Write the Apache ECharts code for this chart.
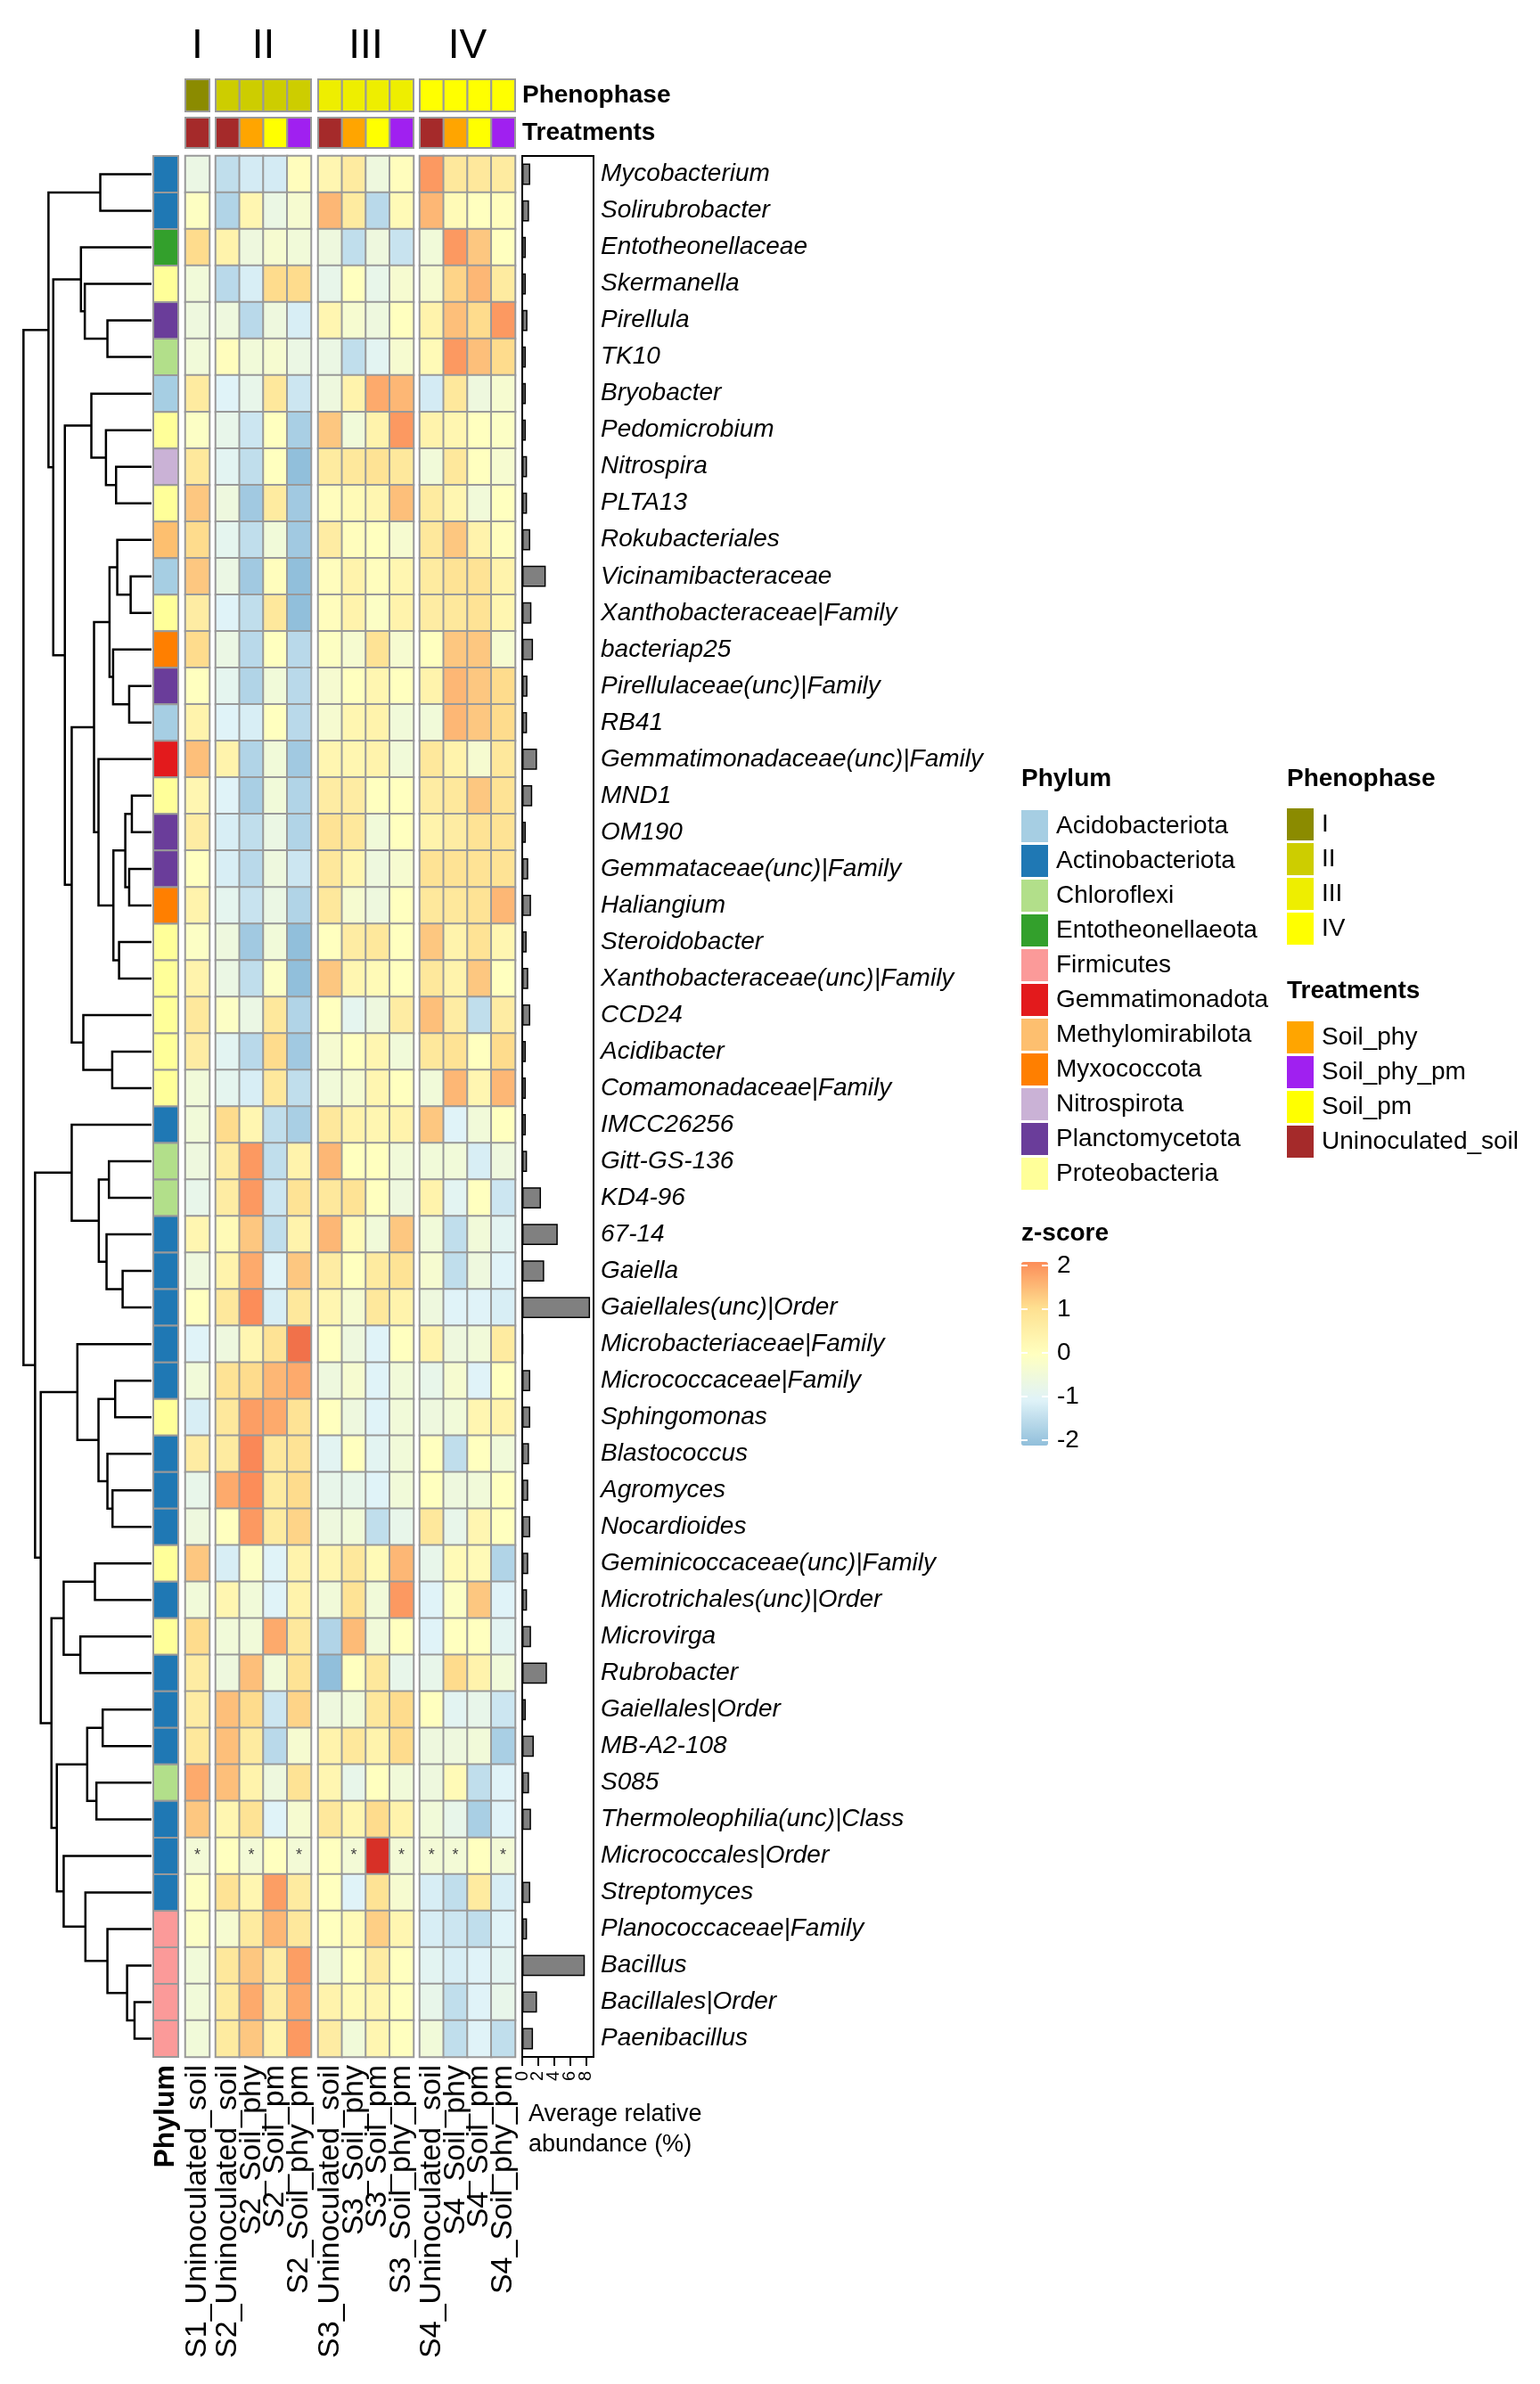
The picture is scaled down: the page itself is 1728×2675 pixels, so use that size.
<!DOCTYPE html>
<html>
<head>
<meta charset="utf-8">
<title>Taxa heatmap</title>
<script src="https://cdn.jsdelivr.net/npm/echarts@6.0.0/dist/echarts.min.js"></script>
<style>
  html, body { margin: 0; padding: 0; background: #fff; }
  #chart { width: 1728px; height: 2675px; }
</style>
</head>
<body>
<div id="chart"></div>
<script>
const taxa = [
  "Mycobacterium", "Solirubrobacter", "Entotheonellaceae", "Skermanella", "Pirellula", "TK10",
  "Bryobacter", "Pedomicrobium", "Nitrospira", "PLTA13", "Rokubacteriales", "Vicinamibacteraceae",
  "Xanthobacteraceae|Family", "bacteriap25", "Pirellulaceae(unc)|Family", "RB41",
  "Gemmatimonadaceae(unc)|Family", "MND1", "OM190", "Gemmataceae(unc)|Family", "Haliangium",
  "Steroidobacter", "Xanthobacteraceae(unc)|Family", "CCD24", "Acidibacter", "Comamonadaceae|Family",
  "IMCC26256", "Gitt-GS-136", "KD4-96", "67-14", "Gaiella", "Gaiellales(unc)|Order",
  "Microbacteriaceae|Family", "Micrococcaceae|Family", "Sphingomonas", "Blastococcus", "Agromyces",
  "Nocardioides", "Geminicoccaceae(unc)|Family", "Microtrichales(unc)|Order", "Microvirga",
  "Rubrobacter", "Gaiellales|Order", "MB-A2-108", "S085", "Thermoleophilia(unc)|Class",
  "Micrococcales|Order", "Streptomyces", "Planococcaceae|Family", "Bacillus", "Bacillales|Order",
  "Paenibacillus"
];

const phylumOfTaxon = [
  "Actinobacteriota", "Actinobacteriota", "Entotheonellaeota", "Proteobacteria", "Planctomycetota", "Chloroflexi",
  "Acidobacteriota", "Proteobacteria", "Nitrospirota", "Proteobacteria", "Methylomirabilota", "Acidobacteriota",
  "Proteobacteria", "Myxococcota", "Planctomycetota", "Acidobacteriota",
  "Gemmatimonadota", "Proteobacteria", "Planctomycetota", "Planctomycetota", "Myxococcota",
  "Proteobacteria", "Proteobacteria", "Proteobacteria", "Proteobacteria", "Proteobacteria",
  "Actinobacteriota", "Chloroflexi", "Chloroflexi", "Actinobacteriota", "Actinobacteriota", "Actinobacteriota",
  "Actinobacteriota", "Actinobacteriota", "Proteobacteria", "Actinobacteriota", "Actinobacteriota",
  "Actinobacteriota", "Proteobacteria", "Actinobacteriota", "Proteobacteria",
  "Actinobacteriota", "Actinobacteriota", "Actinobacteriota", "Chloroflexi", "Actinobacteriota",
  "Actinobacteriota", "Actinobacteriota", "Firmicutes", "Firmicutes", "Firmicutes",
  "Firmicutes"
];

const phylumNames = [
  "Acidobacteriota", "Actinobacteriota", "Chloroflexi", "Entotheonellaeota", "Firmicutes",
  "Gemmatimonadota", "Methylomirabilota", "Myxococcota", "Nitrospirota", "Planctomycetota", "Proteobacteria"
];
const phylumColors = [
  "#A6CEE3", "#1F78B4", "#B2DF8A", "#33A02C", "#FB9A99",
  "#E31A1C", "#FDBF6F", "#FF7F00", "#CAB2D6", "#6A3D9A", "#FFFF99"
];

const stageNames = ["I", "II", "III", "IV"];
const stageColors = ["#8B8B00", "#CDCD00", "#EEEE00", "#FFFF00"];

const treatmentNames = ["Soil_phy", "Soil_phy_pm", "Soil_pm", "Uninoculated_soil"];
const treatmentColors = ["#FFA500", "#A020F0", "#FFFF00", "#A52A2A"];

const stageTreatments = [
  ["Uninoculated_soil"],
  ["Uninoculated_soil", "Soil_phy", "Soil_pm", "Soil_phy_pm"],
  ["Uninoculated_soil", "Soil_phy", "Soil_pm", "Soil_phy_pm"],
  ["Uninoculated_soil", "Soil_phy", "Soil_pm", "Soil_phy_pm"]
];

// z-scores, one entry per taxon (same order as taxa)
const zS1 = [
  -0.65, -0.05, 1.05, -0.45, -0.55, -0.45, 0.66, -0.1, 0.75, 1.3, 1.05, 1.3, 0.6,
  1.05, 0.0, 0.4, 1.4, 0.3, 0.6, 0.0, 0.4, -0.1, 0.4, 0.75, 0.6, -0.45,
  -0.45, -0.55, -0.75, 0.3, -0.55, 0.0, -1.0, -0.45, -1.1, 0.6, -0.75, -0.55, 1.3,
  -0.45, 1.05, 0.6, 0.6, 0.75, 1.65, 1.3, -0.4, -0.05, -0.1, -0.45, -0.45, -0.45
];

const zS2 = [
  [-1.4, -1.15, -1.15, 0.05], [-1.6, 0.3, -0.65, -0.3], [0.4, -0.55, -0.3, -0.45], [-1.5, -1.1, 1.05, 1.05],
  [-0.55, -1.5, -0.55, -1.1], [0.05, -0.45, -0.3, -0.65], [-1.0, -0.75, 0.75, -1.25], [-0.75, -1.25, 0.0, -1.7],
  [-0.9, -1.4, 0.0, -2.0], [-0.55, -1.8, 0.66, -1.8], [-0.85, -1.4, -0.45, -1.8], [-0.65, -1.8, 0.05, -2.0],
  [-1.0, -1.4, 0.75, -2.0], [-0.65, -1.5, 0.0, -1.5], [-0.85, -1.6, -0.45, -1.5], [-1.0, -1.1, 0.0, -1.5],
  [0.4, -1.6, -0.45, -1.8], [-1.0, -1.7, -0.45, -1.6], [-1.1, -1.4, -0.65, -1.6], [-1.1, -1.5, -0.55, -1.25],
  [-0.85, -1.3, -0.65, -1.6], [-0.55, -1.8, -0.45, -2.0], [-0.65, -1.4, -0.1, -2.0], [-0.1, -0.65, 0.75, -1.6],
  [-0.9, -1.5, 1.05, -1.8], [-0.85, -1.1, 0.75, -1.4], [1.05, 0.3, -1.4, -1.7], [0.6, 1.85, -1.4, 0.4],
  [0.6, 1.85, -1.25, 0.9], [0.16, 1.3, -1.4, 0.4], [0.4, 1.65, -1.0, 1.3], [0.75, 2.0, -1.1, 0.75],
  [-0.55, 0.3, 0.9, 2.3], [0.9, 1.05, 1.5, 1.65], [0.75, 1.8, 1.65, 0.9], [0.66, 2.05, 0.75, 0.9],
  [1.65, 2.0, 0.66, 1.05], [0.0, 1.85, 0.66, 1.15], [-1.1, -0.1, -1.0, 0.4], [0.3, -0.45, -1.0, 0.4],
  [-0.45, -0.45, 1.65, 0.75], [-0.55, 1.4, -0.45, 0.9], [1.4, 1.05, -1.25, 1.15], [1.4, 0.66, -1.5, -0.3],
  [1.4, 0.4, -0.55, 0.9], [0.3, 0.9, -1.0, -0.3], [0.0, -0.4, 0.0, -0.4], [0.9, 0.3, 1.8, 0.66],
  [-0.3, 0.66, 1.5, 0.75], [0.75, 1.3, 0.6, 1.8], [0.66, 1.65, 0.6, 1.65], [0.66, 1.3, 0.4, 1.85]
];

const zS3 = [
  [0.3, 0.66, -0.55, 0.05], [1.5, 0.66, -1.5, 0.16], [-0.55, -1.4, -0.55, -1.3], [-0.75, 0.0, -0.75, -0.3],
  [0.3, -0.3, -0.55, 0.0], [-0.65, -1.4, -0.9, -0.3], [-0.55, 0.4, 1.65, 1.5], [1.3, -0.45, 0.4, 1.85],
  [0.66, 0.75, 0.9, 0.75], [0.05, 0.16, 0.3, 1.4], [0.6, 0.05, 0.0, -0.3], [0.05, 0.4, 0.05, 0.3],
  [0.05, 0.4, -0.1, 0.4], [-0.05, -0.3, 0.9, -0.3], [-0.3, 0.0, 0.3, 0.0], [-0.3, 0.3, 0.4, -0.45],
  [0.3, 0.3, 0.4, -0.45], [0.6, 0.6, 0.0, 0.0], [0.9, 0.75, -0.45, 0.0], [0.75, 0.3, -0.55, -0.3],
  [0.75, -0.3, -0.55, 0.0], [0.0, 0.6, 0.75, 0.0], [1.3, 0.3, 0.16, 0.0], [0.0, -0.85, -0.55, 0.6],
  [-0.3, 0.0, 0.3, -0.45], [-0.45, -0.3, 0.3, 0.0], [0.75, 0.4, 0.3, 0.4], [1.5, 0.0, 0.0, -0.45],
  [0.75, 0.9, 0.0, -0.55], [1.5, 0.16, -0.45, 1.3], [0.6, 0.0, 0.66, 0.9], [0.3, -0.3, 0.75, 0.4],
  [0.0, -0.55, -1.0, 0.0], [-0.55, -0.3, -1.0, -0.45], [0.0, -0.55, -1.0, -0.45], [-0.9, 0.0, -0.9, -0.45],
  [-0.75, -0.75, -1.0, -0.45], [-0.55, -0.45, -1.4, -0.75], [0.3, 0.75, 0.16, 1.5], [-0.45, 0.9, -0.45, 1.85],
  [-1.6, 1.45, -0.45, 0.0], [-2.0, 0.0, 0.75, -0.75], [-0.55, -0.45, 0.75, 1.05], [0.4, 0.75, 0.4, 1.05],
  [0.3, -0.75, 0.0, -0.45], [0.75, 0.3, 1.05, 0.4], [0.0, -0.4, 3.0, -0.4], [0.0, -1.0, 0.9, -0.3],
  [0.0, 0.16, 1.2, 0.3], [-0.45, 0.0, 0.6, 0.0], [0.4, 0.16, 0.3, 0.0], [0.6, -0.45, 0.3, 0.0]
];

const zS4 = [
  [1.85, 0.75, 0.75, 0.66], [1.5, 0.16, 0.0, 0.05], [-0.45, 1.85, 1.3, 0.0], [-0.3, 1.15, 1.5, 0.66],
  [0.4, 1.4, 1.05, 1.85], [0.16, 1.85, 1.4, 1.05], [-1.15, 0.75, -0.55, -0.3], [0.4, 0.3, 0.0, -0.1],
  [-0.45, 0.75, 0.0, -0.3], [0.66, 0.3, -0.45, 0.0], [0.75, 1.3, 0.4, 0.05], [0.66, 0.9, 0.9, 0.4],
  [0.6, 0.75, 0.9, 0.3], [0.0, 1.3, 1.3, -0.3], [0.4, 1.5, 1.3, 1.05], [-0.45, 1.5, 1.3, 1.05],
  [0.75, 0.4, -0.3, 0.75], [0.6, 0.75, 1.3, 0.9], [0.4, 0.6, 0.9, 0.9], [0.9, 0.9, 0.9, 0.9],
  [0.75, 0.75, 0.9, 1.5], [1.3, 0.4, 0.9, 0.3], [0.75, 0.4, 1.3, 0.0], [1.4, 0.6, -1.4, 0.6],
  [0.75, 0.9, 0.0, 1.05], [-0.45, 1.5, 0.3, 1.5], [1.3, -1.0, -0.45, 0.0], [-0.45, -0.45, -1.1, -0.55],
  [0.4, -0.9, 0.0, -1.25], [-0.45, -1.4, -0.45, -0.9], [-0.3, -1.4, -0.55, -1.0], [-0.55, -1.0, -1.0, -1.1],
  [0.4, -0.55, -0.45, 0.66], [-0.75, -0.3, -1.0, 0.0], [-0.55, -0.45, 0.3, 0.4], [0.0, -1.4, 0.0, -0.45],
  [0.0, -0.55, -0.45, 0.0], [0.75, -0.75, 0.3, 0.0], [-0.75, 0.16, 0.16, -1.6], [-1.0, -0.1, 1.3, -1.0],
  [-1.0, 0.0, 0.0, -0.9], [-0.75, 1.05, 0.4, -0.45], [0.0, -0.9, -0.75, -1.25], [-0.55, -0.55, -0.45, -1.7],
  [-0.55, 0.16, -1.4, -1.0], [-0.45, -0.75, -1.7, -1.0], [-0.4, -0.4, 0.0, -0.4], [-1.1, -1.4, 0.66, -1.1],
  [-1.1, -1.25, -1.4, -1.0], [-0.9, -1.1, -1.0, -0.9], [-0.75, -1.4, -1.0, -0.75], [-0.45, -1.4, -1.0, -1.4]
];

// cells marked with "*"
const zeroAbundance = [
  ["Micrococcales|Order", "S1_Uninoculated_soil"], ["Micrococcales|Order", "S2_Soil_phy"],
  ["Micrococcales|Order", "S2_Soil_phy_pm"], ["Micrococcales|Order", "S3_Soil_phy"],
  ["Micrococcales|Order", "S3_Soil_phy_pm"], ["Micrococcales|Order", "S4_Uninoculated_soil"],
  ["Micrococcales|Order", "S4_Soil_phy"], ["Micrococcales|Order", "S4_Soil_phy_pm"]
];

// average relative abundance (%)
const avgAbundance = [
  1.0, 0.85, 0.45, 0.45, 0.65, 0.45, 0.45, 0.45, 0.6, 0.6, 1.0, 2.95, 1.15,
  1.35, 0.65, 0.6, 1.85, 1.25, 0.45, 0.75, 1.1, 0.55, 0.75, 1.0, 0.45, 0.45,
  0.45, 0.6, 2.35, 4.45, 2.75, 8.5, 0.1, 1.0, 1.0, 0.85, 0.75, 1.0, 0.75,
  0.6, 1.1, 3.1, 0.45, 1.45, 0.85, 1.1, 0.0, 1.0, 0.6, 7.85, 1.85, 1.35
];
const abundanceTicks = [0, 2, 4, 6, 8];

// row dendrogram, hclust style: negative = leaf (taxon number), positive = earlier merge
const merges = [
  [-1, -2, 172], [-5, -6, 148], [-4, 2, 224], [-3, 3, 237], [-9, -10, 119],
  [-8, 5, 153], [-7, 6, 202], [-12, -13, 70], [-11, 8, 115], [-15, -16, 75],
  [-14, 10, 129], [9, 11, 141], [-18, -19, 66], [-20, -21, 75], [13, 14, 88],
  [-22, -23, 109], [15, 16, 128], [-17, 17, 178], [12, 18, 193], [-25, -26, 132],
  [-24, 20, 229], [19, 21, 268], [7, 22, 291], [4, 23, 330], [1, 24, 346],
  [-28, -29, 143], [-31, -32, 97], [-30, 27, 151], [26, 28, 177], [-27, 29, 268],
  [-34, -35, 122], [-37, -38, 131], [-36, 32, 148], [31, 33, 178], [-33, 34, 249],
  [-39, -40, 190], [-41, -42, 239], [36, 37, 295], [-43, -44, 164], [-45, -46, 185],
  [39, 40, 216], [-51, -52, 57], [-50, 42, 82], [-49, 43, 148], [-48, 44, 222],
  [-47, 45, 295], [41, 46, 318], [38, 47, 336], [35, 48, 372], [30, 49, 391],
  [25, 50, 430]
];

const zColors = ["#4575B4", "#91BFDB", "#E0F3F8", "#FFFFBF", "#FEE090", "#FC8D59", "#D73027"];
const zLegendColors = ["#91BFDB", "#E0F3F8", "#FFFFBF", "#FEE090", "#FC8D59"];

const FONT = "'Liberation Sans', Arial, sans-serif";
const ROW_TOP = 175;
const ROW_H = 2133;
const blocks = [
  { left: 208, width: 27 },
  { left: 242, width: 107 },
  { left: 357, width: 107 },
  { left: 471, width: 107 }
];

const chart = echarts.init(document.getElementById("chart"), null, { renderer: "canvas" });

const grid = [], xAxis = [], yAxis = [], series = [];
function addGrid(g, xa, ya) {
  grid.push(Object.assign({ outerBoundsMode: "none" }, g));
  const gi = grid.length - 1;
  xAxis.push(Object.assign({ gridIndex: gi }, xa));
  yAxis.push(Object.assign({ gridIndex: gi }, ya));
  return { x: xAxis.length - 1, y: yAxis.length - 1, grid: gi };
}

function cellRect(params, api) {
  const c = api.coord([api.value(0), api.value(1)]);
  const s = api.size([1, 1]);
  return {
    type: "rect",
    shape: { x: c[0] - s[0] / 2, y: c[1] - s[1] / 2, width: s[0], height: s[1] },
    style: { fill: api.visual("color"), stroke: "#999", lineWidth: 2 }
  };
}

const noLine = { show: false };

// dendrogram
const nodeY = [], nodeH = [], dendroLinks = [];
function nodePos(ref) {
  return ref < 0 ? { y: -ref - 1, h: 0 } : { y: nodeY[ref - 1], h: nodeH[ref - 1] };
}
merges.forEach(([a, b, h]) => {
  const A = nodePos(a), B = nodePos(b);
  nodeY.push((A.y + B.y) / 2);
  nodeH.push(h);
  dendroLinks.push([A.h, A.y, B.h, B.y, h]);
});
const dg = addGrid({ left: 25, top: ROW_TOP, width: 145, height: ROW_H },
  { type: "value", min: 0, max: 434, inverse: true, show: false },
  { type: "value", min: -0.5, max: taxa.length - 0.5, inverse: true, show: false });
series.push({
  type: "custom", xAxisIndex: dg.x, yAxisIndex: dg.y, silent: true, data: dendroLinks,
  renderItem(params, api) {
    const pts = [
      [api.value(0), api.value(1)], [api.value(4), api.value(1)],
      [api.value(4), api.value(3)], [api.value(2), api.value(3)]
    ].map(p => api.coord(p));
    return { type: "polyline", shape: { points: pts }, style: { stroke: "#000", lineWidth: 2.5, fill: null } };
  }
});

// phylum column
const pg = addGrid({ left: 172, top: ROW_TOP, width: 28, height: ROW_H },
  {
    type: "category", data: ["Phylum"], axisLine: noLine, axisTick: noLine,
    axisLabel: { rotate: 90, fontSize: 32, fontWeight: "bold", color: "#000", margin: 9, fontFamily: FONT }
  },
  { type: "category", data: taxa, inverse: true, show: false });
series.push({
  type: "custom", xAxisIndex: pg.x, yAxisIndex: pg.y, silent: true, renderItem: cellRect,
  data: taxa.map((t, i) => ({ value: [0, i], itemStyle: { color: phylumColors[phylumNames.indexOf(phylumOfTaxon[i])] } }))
});

// heatmap blocks + annotations
const stageScores = [zS1.map(v => [v]), zS2, zS3, zS4];
const heatIndex = [];
stageTreatments.forEach((treats, k) => {
  const cols = treats.map(t => "S" + (k + 1) + "_" + t);
  const b = blocks[k];
  const last = k === stageTreatments.length - 1;

  const hg = addGrid({ left: b.left, top: ROW_TOP, width: b.width, height: ROW_H },
    {
      type: "category", data: cols, axisLine: noLine, axisTick: noLine,
      axisLabel: { rotate: 90, interval: 0, fontSize: 34, color: "#000", margin: 9, fontFamily: FONT }
    },
    { type: "category", data: taxa, inverse: true, show: false });
  const data = [];
  stageScores[k].forEach((row, r) => row.forEach((v, c) => data.push([c, r, v])));
  heatIndex.push(series.length);
  series.push({
    type: "heatmap", xAxisIndex: hg.x, yAxisIndex: hg.y, data, silent: true,
    emphasis: { disabled: true },
    itemStyle: { borderColor: "#999", borderWidth: 2 },
    label: {
      show: true, fontSize: 18, color: "#444", fontFamily: FONT,
      formatter: p => zeroAbundance.some(z => z[0] === taxa[p.value[1]] && z[1] === cols[p.value[0]]) ? "*" : ""
    }
  });

  const phg = addGrid({ left: b.left, top: 89, width: b.width, height: 36 },
    {
      type: "category", data: cols, position: "top", axisLine: noLine, axisTick: noLine, axisLabel: noLine,
      name: stageNames[k], nameLocation: "middle", nameGap: 14,
      nameTextStyle: { fontSize: 46, color: "#000", fontFamily: FONT }
    },
    last ? {
      type: "category", data: ["Phenophase"], position: "right", axisLine: noLine, axisTick: noLine,
      axisLabel: { fontSize: 28, fontWeight: "bold", color: "#000", margin: 8, fontFamily: FONT }
    } : { type: "category", data: ["Phenophase"], show: false });
  series.push({
    type: "custom", xAxisIndex: phg.x, yAxisIndex: phg.y, silent: true, renderItem: cellRect,
    data: cols.map((c, i) => ({ value: [i, 0], itemStyle: { color: stageColors[k] } }))
  });

  const tg = addGrid({ left: b.left, top: 132, width: b.width, height: 34 },
    { type: "category", data: cols, show: false },
    last ? {
      type: "category", data: ["Treatments"], position: "right", axisLine: noLine, axisTick: noLine,
      axisLabel: { fontSize: 28, fontWeight: "bold", color: "#000", margin: 8, fontFamily: FONT }
    } : { type: "category", data: ["Treatments"], show: false });
  series.push({
    type: "custom", xAxisIndex: tg.x, yAxisIndex: tg.y, silent: true, renderItem: cellRect,
    data: treats.map((t, i) => ({ value: [i, 0], itemStyle: { color: treatmentColors[treatmentNames.indexOf(t)] } }))
  });
});

// average relative abundance bars with row labels
const tickLabelStyle = {
  rotate: 90, fontSize: 20, color: "#000", margin: 16,
  showMinLabel: true, showMaxLabel: true, fontFamily: FONT
};
const bg = addGrid({ left: 586, top: ROW_TOP, width: 80, height: ROW_H, show: true, borderColor: "#000", borderWidth: 2 },
  {
    type: "value", min: 0, max: 8.94,
    axisLine: { show: true, lineStyle: { color: "#000", width: 2 } },
    axisTick: { show: true, length: 10, customValues: abundanceTicks, lineStyle: { color: "#000", width: 2 } },
    axisLabel: Object.assign({ customValues: abundanceTicks.filter((v, i) => i % 2 === 0) }, tickLabelStyle),
    splitLine: noLine
  },
  {
    type: "category", data: taxa, inverse: true, position: "right",
    axisLine: noLine, axisTick: noLine,
    axisLabel: { fontSize: 28, fontStyle: "italic", color: "#000", margin: 8, fontFamily: FONT }
  });
// second axis on the same grid carries the in-between tick labels (avoids overlap hiding)
xAxis.push({
  gridIndex: bg.grid, type: "value", min: 0, max: 8.94, position: "bottom", offset: 0,
  axisLine: noLine, axisTick: noLine, splitLine: noLine,
  axisLabel: Object.assign({ customValues: abundanceTicks.filter((v, i) => i % 2 === 1) }, tickLabelStyle)
});
series.push({
  type: "bar", xAxisIndex: bg.x, yAxisIndex: bg.y, data: avgAbundance, barWidth: "58%", silent: true,
  itemStyle: { color: "#808080", borderColor: "#000", borderWidth: 1.5 }
});

// z-score colour bar ticks
addGrid({ left: 1146, top: 1420, width: 30, height: 196 },
  { type: "value", show: false },
  {
    type: "value", min: -2, max: 2, interval: 1, position: "left", z: 10,
    axisLine: noLine, axisLabel: noLine, splitLine: noLine,
    axisTick: { show: true, inside: true, length: 7, lineStyle: { color: "#fff", width: 2 } }
  });
yAxis.push({
  gridIndex: grid.length - 1, type: "value", min: -2, max: 2, interval: 1, position: "right", z: 10,
  axisLine: noLine, splitLine: noLine,
  axisTick: { show: true, inside: true, length: 7, lineStyle: { color: "#fff", width: 2 } },
  axisLabel: { fontSize: 28, color: "#000", margin: 10, fontFamily: FONT }
});

// legend-only series
function legendSeries(name, color) {
  series.push({ type: "scatter", name, xAxisIndex: dg.x, yAxisIndex: dg.y, data: [], itemStyle: { color, opacity: 1 } });
}
phylumNames.forEach((n, i) => legendSeries(n, phylumColors[i]));
stageNames.forEach((n, i) => legendSeries(n, stageColors[i]));
treatmentNames.forEach((n, i) => legendSeries(n, treatmentColors[i]));
const zLegendIndex = series.length;
series.push({ type: "scatter", name: "z-score", xAxisIndex: dg.x, yAxisIndex: dg.y, data: [] });

const legendBase = {
  orient: "vertical", itemWidth: 30, itemHeight: 36, itemGap: 3, icon: "rect",
  selectedMode: false, padding: 0,
  itemStyle: { opacity: 1 },
  textStyle: { fontSize: 28, color: "#000", fontFamily: FONT, padding: [0, 0, 0, 4] }
};
const titleStyle = { fontSize: 28, fontWeight: "bold", color: "#000", fontFamily: FONT };

chart.setOption({
  backgroundColor: "#fff",
  animation: false,
  textStyle: { fontFamily: FONT },
  grid, xAxis, yAxis, series,
  title: [
    { text: "Phylum", left: 1146, top: 860, padding: 0, textStyle: titleStyle },
    { text: "Phenophase", left: 1444, top: 860, padding: 0, textStyle: titleStyle },
    { text: "Treatments", left: 1444, top: 1098, padding: 0, textStyle: titleStyle },
    { text: "z-score", left: 1146, top: 1370, padding: 0, textStyle: titleStyle }
  ],
  legend: [
    Object.assign({ data: phylumNames, left: 1146, top: 909 }, legendBase),
    Object.assign({ data: stageNames, left: 1444, top: 907 }, legendBase),
    Object.assign({ data: treatmentNames, left: 1444, top: 1146 }, legendBase)
  ],
  visualMap: [
    { type: "continuous", show: false, min: -3, max: 3, seriesIndex: heatIndex, inRange: { color: zColors } },
    {
      type: "continuous", show: true, min: -2, max: 2, seriesIndex: [zLegendIndex],
      left: 1146, top: 1416, itemWidth: 30, itemHeight: 206, calculable: false, padding: 0,
      hoverLink: false, inRange: { color: zLegendColors }
    }
  ],
  graphic: [
    {
      type: "text", left: 593, top: 2356, silent: true,
      style: { text: "Average relative\nabundance (%)", fontSize: 27, lineHeight: 34, fill: "#000", fontFamily: FONT }
    }
  ]
});
</script>
</body>
</html>
